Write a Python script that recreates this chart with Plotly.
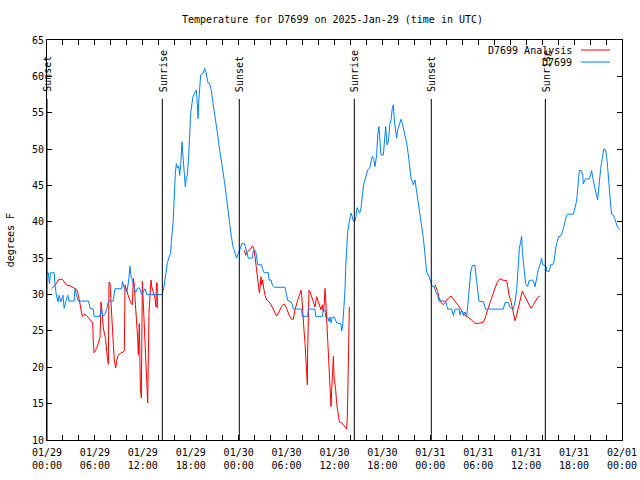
import plotly.graph_objects as go

# ---------------- data ----------------
analysis_hours = [0.58,1.09,1.42,1.63,1.92,2.17,2.46,2.88,3.17,3.42,3.72,3.92,4.05,4.22,4.34,4.42,4.55,4.76,4.97,5.18,5.38,5.59,5.72,5.8,5.89,6.01,6.22,6.43,6.64,6.76,6.85,6.93,7.05,7.18,7.35,7.47,7.6,7.68,7.76,7.89,8.01,8.1,8.22,8.31,8.43,8.6,8.72,8.85,9.02,9.27,9.56,9.68,9.77,9.89,10.1,10.27,10.52,10.69,10.81,10.94,11.02,11.14,11.23,11.35,11.44,11.56,11.69,11.81,11.94,12.06,12.19,12.27,12.4,12.52,12.61,12.77,12.9,13.02,13.11,13.32,13.52,13.65,13.7,13.8,13.82,
                  None,
                  24.71,24.88,25.13,25.42,25.71,25.88,26.05,26.17,26.3,26.46,26.59,26.67,26.8,26.88,27.0,27.13,27.3,27.51,27.8,28.05,28.34,28.55,28.76,29.05,29.38,29.72,30.01,30.3,30.64,30.85,31.05,31.39,31.6,31.81,31.89,32.01,32.18,32.31,32.43,32.52,32.6,32.64,32.72,32.81,32.93,33.14,33.35,33.56,33.77,33.98,34.19,34.31,34.48,34.6,34.73,34.81,34.89,35.02,35.14,35.23,35.35,35.48,35.56,35.65,35.77,35.86,35.94,36.06,36.15,36.27,36.4,36.48,36.61,36.81,36.98,37.31,37.52,37.61,37.65,37.73,37.82,37.86,
                  None,
                  48.58,48.92,49.09,49.34,49.63,49.92,50.25,50.59,50.88,51.17,51.51,51.84,52.13,52.34,52.67,52.97,53.26,53.59,54.01,54.64,54.85,55.18,55.47,55.76,56.1,56.43,56.73,57.02,57.35,57.56,57.69,57.86,58.11,58.4,58.6,58.81,59.02,59.23,59.52,59.77,60.07,60.36,60.61,60.9,61.2,61.45,61.73]
analysis_temps = [30.8,31.4,32.0,32.1,32.1,31.7,31.3,31.2,31.0,30.8,30.7,30.0,29.2,28.5,27.7,27.0,27.2,27.3,27.1,26.8,26.5,26.3,26.1,23.5,22.0,22.2,22.6,23.3,24.1,29.0,28.3,27.2,25.4,24.5,23.8,22.2,21.0,20.4,31.7,31.6,29.0,26.7,24.5,23.1,21.0,19.9,20.8,21.5,21.7,22.0,22.1,22.3,31.3,30.8,30.1,29.5,28.8,28.6,32.2,31.3,29.5,27.9,26.3,24.1,21.7,26.0,17.2,15.8,31.8,28.6,24.5,21.7,19.4,16.7,15.1,27.5,30.8,32.0,31.1,30.4,29.5,28.3,31.6,31.6,28.1,
                  None,
                  36.1,35.4,35.9,36.2,36.7,36.4,35.2,34.1,32.9,31.5,30.2,30.9,32.45,31.3,32.0,30.9,29.9,29.25,29.0,28.6,28.0,27.5,27.05,27.6,28.4,28.7,28.1,27.2,26.6,26.6,27.9,29.2,29.9,30.6,29.9,27.0,25.1,23.3,21.0,18.7,17.6,22.4,25.8,30.6,30.4,29.7,29.0,28.3,29.7,29.0,28.3,27.9,28.6,27.6,28.8,30.85,29.5,26.7,24.2,21.5,18.7,16.4,14.6,16.9,19.2,21.5,18.7,17.8,16.9,15.0,14.1,13.2,12.5,12.4,12.3,11.8,11.5,13.2,16.9,21.0,25.1,28.3,
                  None,
                  31.4,30.4,29.6,28.9,28.6,29.1,29.5,29.8,29.4,28.9,28.5,27.9,27.4,27.1,26.96,26.6,26.4,26.04,26.04,26.2,26.7,27.9,28.9,29.9,30.9,31.8,32.2,32.0,32.0,31.9,31.1,29.9,29.0,27.6,26.4,27.2,28.3,29.2,30.5,29.9,29.2,28.6,28.1,28.6,29.1,29.6,29.8]

obs_hours = [0.0,0.17,0.3,0.45,0.9,1.0,1.2,1.4,1.5,1.75,2.0,2.15,2.35,2.6,2.75,3.4,3.5,3.7,3.9,5.2,5.4,5.8,5.9,6.6,6.8,7.0,7.3,7.5,7.7,8.3,8.5,9.35,9.45,9.7,10.0,10.2,10.4,10.5,10.7,10.95,11.1,11.35,11.6,11.85,12.27,12.5,13.9,
             14.44,14.65,14.82,15.07,15.24,15.49,15.57,15.78,15.9,15.99,16.07,16.2,16.32,16.49,16.61,16.74,16.9,17.03,17.16,17.32,17.45,17.57,17.74,17.86,17.99,18.16,18.28,18.49,18.7,18.82,18.91,18.99,19.12,19.24,19.53,19.74,19.95,20.16,20.37,20.58,20.79,20.99,21.2,21.41,21.62,21.83,22.04,22.25,22.46,22.66,22.87,23.08,23.29,23.5,
             23.75,23.96,24.17,24.38,24.71,24.88,25.0,25.21,25.71,25.84,26.13,26.25,26.38,26.88,26.96,27.21,27.72,27.8,28.05,28.22,28.47,29.8,30.01,30.14,30.55,30.72,30.85,31.89,31.97,32.64,32.72,33.56,33.64,34.48,34.6,34.81,34.89,35.14,35.31,35.43,35.56,35.73,35.98,36.06,36.27,36.81,36.89,37.02,37.19,37.31,
             37.4,37.52,37.65,37.82,37.94,38.07,38.23,38.36,38.57,38.69,38.82,38.99,39.15,39.32,39.4,39.53,39.65,39.82,39.99,40.15,40.4,40.57,40.74,40.91,41.07,41.28,41.41,41.57,41.7,41.82,42.12,42.24,42.41,42.58,42.74,42.95,43.08,43.24,43.37,43.49,43.66,43.78,43.91,44.08,44.2,44.33,44.5,44.62,44.83,45.04,45.25,45.45,45.58,45.75,45.87,46.08,46.29,46.5,46.71,46.92,47.13,47.25,
             47.42,47.54,47.83,48.08,48.25,48.5,48.67,48.92,49.09,49.92,50.05,50.17,50.67,50.88,51.09,51.59,51.72,51.84,52.01,52.13,52.34,52.55,52.67,52.84,53.05,53.26,53.59,53.8,54.09,54.64,54.76,54.93,57.14,57.35,57.77,57.98,58.19,58.39,58.6,58.81,59.02,59.15,59.31,59.44,59.52,59.73,59.94,60.19,60.36,60.69,60.9,61.11,61.32,61.52,61.73,61.94,
             62.07,62.32,62.49,62.57,62.9,63.07,63.32,63.49,63.61,63.74,63.9,64.07,64.32,64.49,64.65,64.74,64.9,65.07,65.2,65.91,66.07,66.24,66.37,66.45,66.53,66.66,66.91,67.08,67.16,67.28,67.41,67.91,68.08,68.2,68.33,68.49,68.66,68.83,68.95,69.04,69.16,69.33,69.45,69.58,69.71,69.87,70.0,70.17,70.33,70.5,70.63,70.71,70.92,71.09,71.26,71.42,71.67]
obs_temps = [33.0,33.0,31.5,33.0,33.0,31.3,29.7,29.0,29.9,29.0,29.9,28.1,29.0,29.9,29.1,29.1,30.8,30.1,29.1,29.1,28.1,28.0,27.0,27.0,28.0,27.0,27.4,28.1,29.1,29.1,30.8,30.8,31.8,30.8,30.4,31.7,33.9,32.6,32.0,30.8,30.3,30.9,30.9,30.0,30.8,30.0,30.0,
             30.0,31.1,32.5,34.3,35.0,35.7,37.3,39.8,42.5,45.1,46.7,48.0,47.4,47.7,46.4,47.7,51.0,49.0,46.7,44.8,46.1,46.4,49.0,52.2,54.9,56.3,57.2,57.7,58.1,56.3,54.2,56.3,58.6,60.2,60.4,61.1,60.4,59.1,59.0,58.1,56.3,54.9,53.5,51.7,49.9,48.5,46.7,45.3,43.5,41.6,39.8,38.0,36.6,35.8,
             35.0,35.7,36.2,37.0,37.0,36.4,35.9,35.0,35.0,36.0,36.0,35.2,34.1,34.1,33.6,33.0,33.0,32.0,32.0,31.3,31.0,31.0,29.9,29.2,29.0,28.6,28.0,28.0,27.0,27.0,28.0,28.0,27.0,27.0,27.9,27.9,26.9,26.9,26.3,26.9,26.1,26.9,26.9,26.6,26.1,26.0,25.0,25.6,27.9,30.6,
             33.6,36.6,38.65,39.8,40.5,41.2,40.7,40.1,40.1,40.7,41.95,41.4,41.2,41.9,42.8,44.15,45.1,45.75,46.7,47.1,47.4,48.3,49.0,48.7,47.6,49.2,51.9,53.1,51.0,49.2,49.2,51.0,53.1,50.6,51.0,53.5,54.0,55.6,56.1,54.0,52.6,51.5,52.6,53.3,53.8,54.1,53.5,52.9,51.5,50.8,49.2,47.6,46.0,45.5,45.1,45.75,44.15,42.8,41.4,40.0,37.7,36.4,
             34.75,33.1,32.5,31.8,31.1,31.1,30.4,29.9,29.1,29.1,28.65,28.0,28.0,27.1,28.0,28.0,27.2,27.7,27.7,27.1,27.6,27.1,28.3,30.6,33.1,34.0,34.0,31.8,29.1,29.0,28.6,28.0,28.0,28.9,28.9,28.2,28.1,28.0,29.0,30.6,34.1,36.35,37.3,38.0,35.9,33.1,31.5,31.1,31.9,32.0,31.9,31.1,32.5,33.4,34.1,35.0,
             34.1,34.0,33.9,33.2,33.2,34.1,34.1,34.55,35.7,36.6,37.3,37.95,38.05,38.4,39.1,39.7,40.2,40.9,41.05,41.05,41.7,42.5,43.5,44.7,46.1,47.05,47.05,46.4,45.2,45.55,45.9,45.9,46.6,47.05,46.1,45.2,44.1,43.5,43.05,44.3,46.1,47.3,48.2,49.3,50.0,50.0,49.55,47.95,45.45,43.2,41.7,41.05,40.9,40.45,39.9,39.3,38.95]

sun_event_hours = [0.0, 14.44, 24.08, 38.48, 48.12, 62.40]
sun_event_labels = ["Sunset", "Sunrise", "Sunset", "Sunrise", "Sunset", "Sunrise"]

x_tick_hours = [0, 6, 12, 18, 24, 30, 36, 42, 48, 54, 60, 66, 72]
x_tick_labels = ["01/29<br>00:00", "01/29<br>06:00", "01/29<br>12:00", "01/29<br>18:00",
                 "01/30<br>00:00", "01/30<br>06:00", "01/30<br>12:00", "01/30<br>18:00",
                 "01/31<br>00:00", "01/31<br>06:00", "01/31<br>12:00", "01/31<br>18:00",
                 "02/01<br>00:00"]
y_ticks = [10, 15, 20, 25, 30, 35, 40, 45, 50, 55, 60, 65]

series_names = ["D7699 Analysis", "D7699"]
series_colors = ["#ff0000", "#0080ff"]

title_text = "Temperature for D7699 on 2025-Jan-29 (time in UTC)"
y_title = "degrees F"

# ---------------- figure ----------------
FONT = "DejaVu Sans Mono"
SUN_LINE_TOP = 56.9
SUN_LABEL_Y = 57.6

fig = go.Figure()
fig.add_trace(go.Scatter(x=analysis_hours, y=analysis_temps, mode="lines", name=series_names[0],
                         line=dict(color=series_colors[0], width=1), connectgaps=False, showlegend=False))
fig.add_trace(go.Scatter(x=obs_hours, y=obs_temps, mode="lines", name=series_names[1],
                         line=dict(color=series_colors[1], width=1), showlegend=False))

# tick values every 2 hours, labels every 6 hours
all_ticks = list(range(0, 73, 2))
label_map = dict(zip(x_tick_hours, x_tick_labels))
all_text = [label_map.get(h, "") for h in all_ticks]

shapes = []
annotations = []
for h, lab in zip(sun_event_hours, sun_event_labels):
    shapes.append(dict(type="line", xref="x", yref="y", x0=h, x1=h, y0=10, y1=SUN_LINE_TOP,
                       line=dict(color="black", width=1)))
    annotations.append(dict(x=h, y=SUN_LABEL_Y, xref="x", yref="y", text=lab, textangle=-90,
                            showarrow=False, xanchor="center", yanchor="bottom", xshift=1,
                            font=dict(family=FONT, size=10, color="black")))

# manual legend (gnuplot style: text then sample)
leg_y = [0.975, 0.945]
for name, color, yy in zip(series_names, series_colors, leg_y):
    annotations.append(dict(x=0.9165, y=yy, xref="paper", yref="paper", text=name, showarrow=False,
                            xanchor="right", yanchor="middle", font=dict(family=FONT, size=10, color="black")))
    shapes.append(dict(type="line", xref="paper", yref="paper", x0=0.9287, x1=0.9791, y0=yy, y1=yy,
                       line=dict(color=color, width=1)))

annotations.append(dict(x=-0.064, y=0.5, xref="paper", yref="paper", text=y_title, textangle=-90,
                        showarrow=False, xanchor="center", yanchor="middle",
                        font=dict(family=FONT, size=10, color="black")))

# title centred ~20px from the top of the page
annotations.append(dict(x=0.497, y=1 + 20 / 400, xref="paper", yref="paper", text=title_text,
                        showarrow=False, xanchor="center", yanchor="middle",
                        font=dict(family=FONT, size=10, color="black")))

fig.update_layout(
    width=640, height=480, autosize=False,
    margin=dict(l=47, r=18, t=40, b=40, autoexpand=False),
    paper_bgcolor="white", plot_bgcolor="white",
    font=dict(family=FONT, size=10, color="black"),
    shapes=shapes, annotations=annotations,
    showlegend=False,
)
fig.update_xaxes(range=[0, 72], tickmode="array", tickvals=all_ticks, ticktext=all_text,
                 ticks="inside", ticklen=5, tickcolor="black", showline=True, linecolor="black",
                 linewidth=1, mirror="ticks", showgrid=False, zeroline=False, automargin=False,
                 ticklabelstandoff=3,
                 tickfont=dict(family=FONT, size=10, color="black"))
fig.update_yaxes(range=[10, 65], tickmode="array", tickvals=y_ticks,
                 ticks="inside", ticklen=5, tickcolor="black", showline=True, linecolor="black",
                 linewidth=1, mirror="ticks", showgrid=False, zeroline=False, automargin=False,
                 tickfont=dict(family=FONT, size=10, color="black"))

# remove the default 8px page margin so the 640x480 figure fills the window exactly
fig.write_html("out.html", config={"displayModeBar": False},
               post_script="document.body.style.margin='0';document.body.style.overflow='hidden';")
